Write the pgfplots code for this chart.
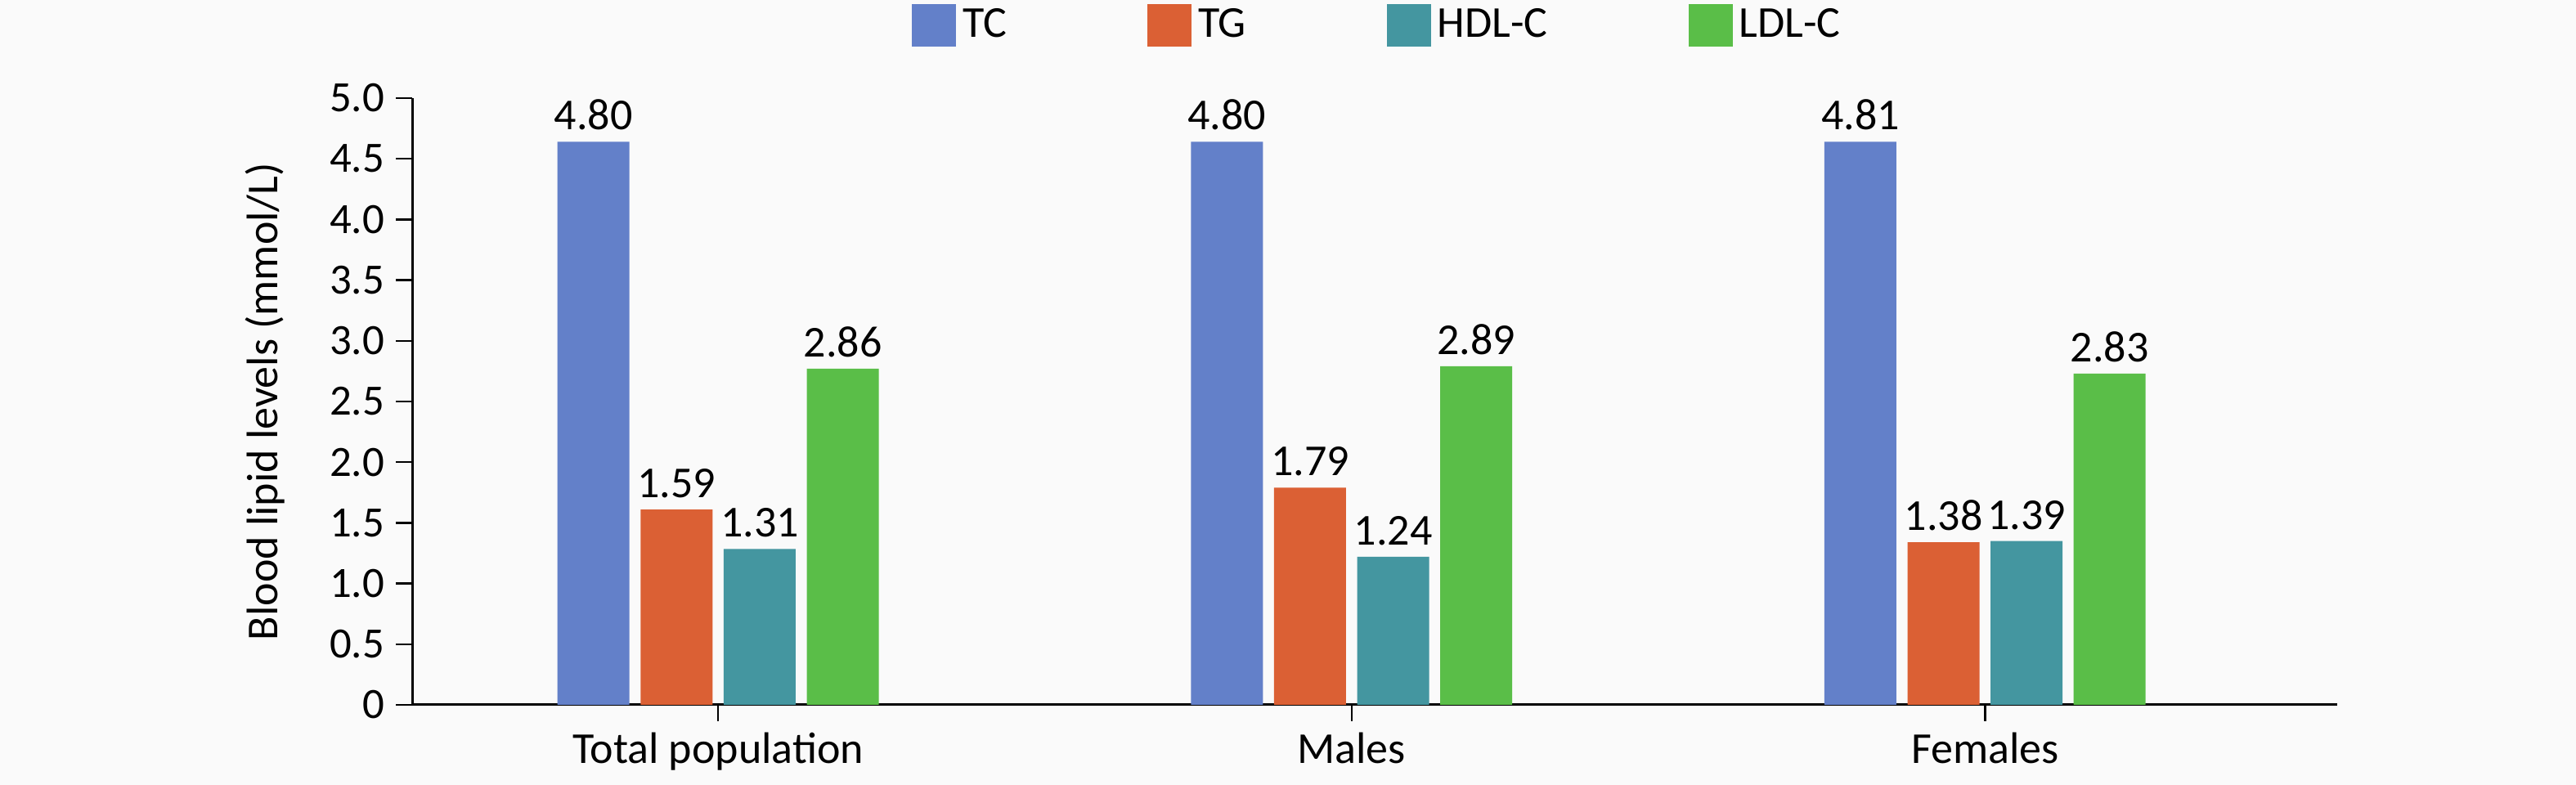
\documentclass[border=0pt]{standalone}
\usepackage{fontspec}
\setmainfont{Carlito}
\usepackage{pgfplots}
\pgfplotsset{compat=1.18}
\definecolor{bgc}{RGB}{250,250,250}
\definecolor{cTC}{RGB}{99,128,201}
\definecolor{cTG}{RGB}{219,96,52}
\definecolor{cHDL}{RGB}{68,150,160}
\definecolor{cLDL}{RGB}{90,190,72}
\pgfplotstableread{
x y l
0 4.64 4.80
1 4.64 4.80
2 4.64 4.81
}\tc
\pgfplotstableread{
x y l
0 1.61 1.59
1 1.79 1.79
2 1.34 1.38
}\tg
\pgfplotstableread{
x y l
0 1.285 1.31
1 1.22 1.24
2 1.35 1.39
}\hdl
\pgfplotstableread{
x y l
0 2.77 2.86
1 2.79 2.89
2 2.73 2.83
}\ldl
\begin{document}
\begin{tikzpicture}
\fill[bgc] (0,0) rectangle (787.5pt,240pt);
\useasboundingbox (0,0) rectangle (787.5pt,240pt);
\begin{axis}[
  at={(126pt,24.5pt)}, anchor=south west,
  scale only axis, width=588.5pt, height=185.5pt,
  ybar=3.4pt, bar width=22pt,
  enlargelimits=false,
  xmin=-0.483, xmax=2.556, ymin=0, ymax=5,
  xtick={0,1,2}, xticklabels={Total population,Males,Females},
  ytick={0,0.5,1,1.5,2,2.5,3,3.5,4,4.5,5},
  yticklabels={0,0.5,1.0,1.5,2.0,2.5,3.0,3.5,4.0,4.5,5.0},
  axis x line*=bottom, axis y line*=left,
  axis line style={-, line width=0.75pt, black},
  tick align=outside, major tick length=5pt,
  tick style={line width=0.6pt, black},
  y tick label style={font=\fontsize{13.2}{15}\selectfont},
  x tick label style={font=\fontsize{13.5}{15}\selectfont},
  ylabel={Blood lipid levels (mmol/L)},
  every axis y label/.style={at={(axis description cs:-0.0765,0.5)},anchor=center,rotate=90,font=\fontsize{13.5}{15}\selectfont},
  legend style={at={(axis description cs:0.5025,1.12)}, anchor=center, draw=none, fill=none,
    font=\fontsize{13.5}{15}\selectfont, legend columns=4,
    /tikz/every even column/.append style={column sep=41pt}},
  legend cell align=left,
  legend image code/.code={\fill[#1] (0pt,-6.5pt) rectangle (13.5pt,6.5pt);},
  nodes near coords, point meta=explicit symbolic,
  every node near coord/.append style={font=\fontsize{13.5}{15}\selectfont, text=black},
]
\addplot[fill=cTC, draw=none] table[x=x,y=y,meta=l] {\tc};
\addplot[fill=cTG, draw=none] table[x=x,y=y,meta=l] {\tg};
\addplot[fill=cHDL, draw=none] table[x=x,y=y,meta=l] {\hdl};
\addplot[fill=cLDL, draw=none] table[x=x,y=y,meta=l] {\ldl};
\legend{TC,TG,HDL-C\hspace{7.5pt},LDL-C}
\end{axis}
\end{tikzpicture}
\end{document}
